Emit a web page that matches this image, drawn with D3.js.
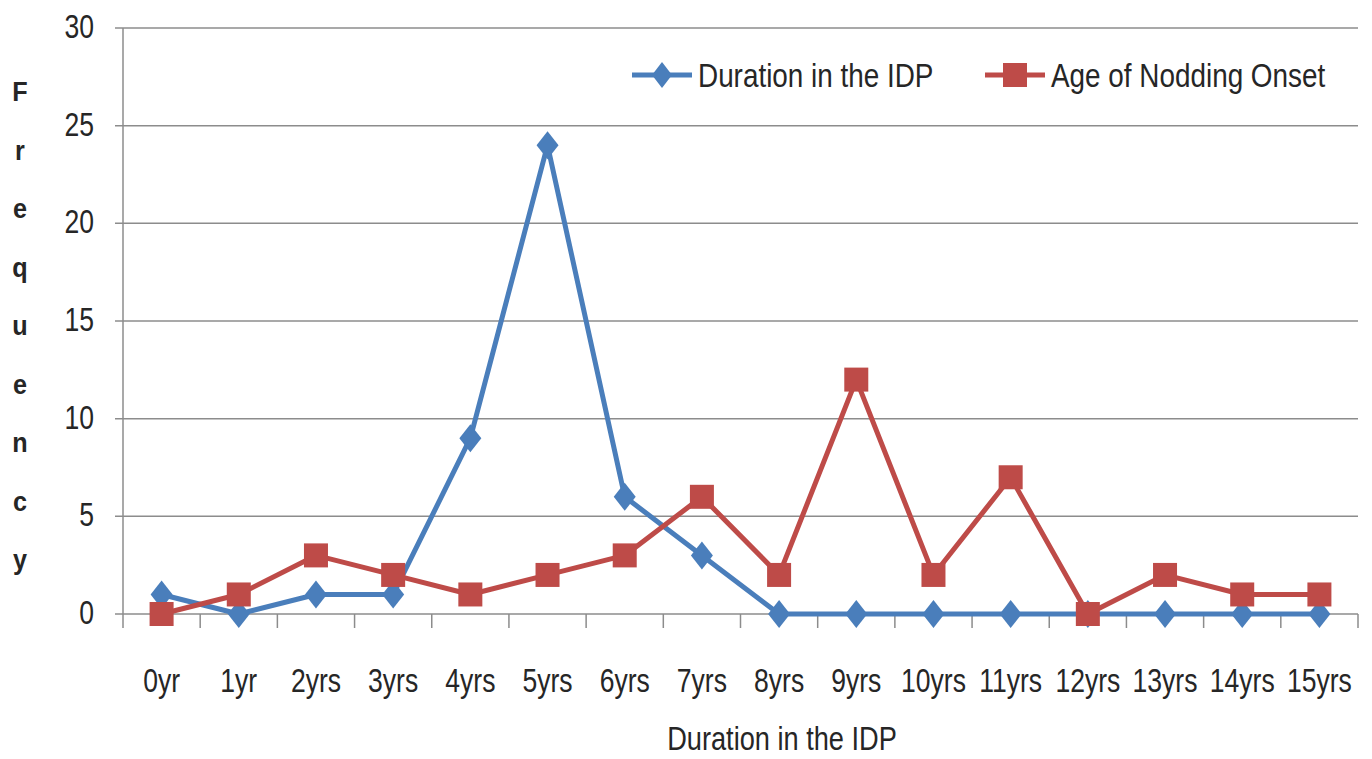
<!DOCTYPE html>
<html lang="en">
<head>
<meta charset="UTF-8">
<title>Duration in the IDP</title>
<script src="https://cdn.jsdelivr.net/npm/d3@7"></script>
<style>
  body { margin: 0; background: #fff; }
  text { font-family: "Liberation Sans", Arial, sans-serif; fill: #262626; }
</style>
</head>
<body>
<script>
var width = 1372, height = 759;

var categories = ["0yr","1yr","2yrs","3yrs","4yrs","5yrs","6yrs","7yrs","8yrs","9yrs","10yrs","11yrs","12yrs","13yrs","14yrs","15yrs"];
var durationIDP = [1,0,1,1,9,24,6,3,0,0,0,0,0,0,0,0];
var nodOnset    = [0,1,3,2,1,2,3,6,2,12,2,7,0,2,1,1];
var yTicks = [0,5,10,15,20,25,30];
var yLabel = "Frequency";

// plot area edges (avoid window.top clash)
var pLeft = 123, pRight = 1358, pTop = 28, pBottom = 614;
var sx = 0.78;   // narrow, tall text like the original

var svg = d3.select("body").append("svg")
    .attr("width", width)
    .attr("height", height);

var x = d3.scaleBand().domain(categories).range([pLeft, pRight]);
var y = d3.scaleLinear().domain([0, 30]).range([pBottom, pTop]);

function place(px, py, k) {
    return "translate(" + px + "," + py + ") scale(" + (k || sx) + ",1)";
}

// gridlines
svg.append("g").selectAll("line").data(yTicks).enter().append("line")
    .attr("x1", pLeft - 8).attr("x2", pRight)
    .attr("y1", d => y(d)).attr("y2", d => y(d))
    .attr("stroke", "#8c8c8c").attr("stroke-width", 1.5);

// y axis line
svg.append("line").attr("x1", pLeft).attr("x2", pLeft)
    .attr("y1", pTop).attr("y2", pBottom)
    .attr("stroke", "#8c8c8c").attr("stroke-width", 1.5);

// y tick labels
svg.append("g").selectAll("text").data(yTicks).enter().append("text")
    .attr("transform", d => place(pLeft - 29, y(d) - 2))
    .attr("dy", "0.35em")
    .attr("text-anchor", "end")
    .attr("font-size", 34)
    .text(d => d);

// x tick marks between categories
var edges = categories.map(c => x(c)).concat([pRight]);
svg.append("g").selectAll("line").data(edges).enter().append("line")
    .attr("x1", d => d).attr("x2", d => d)
    .attr("y1", pBottom).attr("y2", pBottom + 14)
    .attr("stroke", "#8c8c8c").attr("stroke-width", 1.5);

// x labels
svg.append("g").selectAll("text").data(categories).enter().append("text")
    .attr("transform", d => place(x(d) + x.bandwidth() / 2, 692))
    .attr("text-anchor", "middle")
    .attr("font-size", 34)
    .text(d => d);

// axis titles
svg.append("text")
    .attr("transform", place(782, 750, 0.8))
    .attr("text-anchor", "middle").attr("font-size", 34)
    .text("Duration in the IDP");

svg.append("g").selectAll("text").data(yLabel.split("")).enter().append("text")
    .attr("transform", (d, i) => place(20, 101 + i * 58.5, 0.9))
    .attr("text-anchor", "middle")
    .attr("font-size", 28).attr("font-weight", "bold")
    .text(d => d);

var cx = d => x(d) + x.bandwidth() / 2;

var line = d3.line()
    .x((d, i) => cx(categories[i]))
    .y(d => y(d));

// blue series
svg.append("path").datum(durationIDP)
    .attr("d", line).attr("fill", "none")
    .attr("stroke", "#4a7ebb").attr("stroke-width", 5)
    .attr("stroke-linejoin", "round");
svg.append("g").selectAll("path").data(durationIDP).enter().append("path")
    .attr("transform", (d, i) => "translate(" + cx(categories[i]) + "," + y(d) + ")")
    .attr("d", "M0,-14L11,0L0,14L-11,0Z")
    .attr("fill", "#4a7ebb");

// red series
svg.append("path").datum(nodOnset)
    .attr("d", line).attr("fill", "none")
    .attr("stroke", "#be4b48").attr("stroke-width", 5)
    .attr("stroke-linejoin", "round");
svg.append("g").selectAll("rect").data(nodOnset).enter().append("rect")
    .attr("x", (d, i) => cx(categories[i]) - 12)
    .attr("y", d => y(d) - 12)
    .attr("width", 24).attr("height", 24)
    .attr("fill", "#be4b48");

// legend
var legend = [
  {name: "Duration in the IDP", color: "#4a7ebb", x: 632, shape: "diamond"},
  {name: "Age of Nodding Onset", color: "#be4b48", x: 985, shape: "square"}
];
var lg = svg.append("g").selectAll("g").data(legend).enter().append("g")
    .attr("transform", d => "translate(" + d.x + ",75)");
lg.append("line").attr("x1", 0).attr("x2", 60)
    .attr("stroke", d => d.color).attr("stroke-width", 5);
lg.filter(d => d.shape === "diamond").append("path")
    .attr("d", "M30,-13L40,0L30,13L20,0Z")
    .attr("fill", d => d.color);
lg.filter(d => d.shape === "square").append("rect")
    .attr("x", 18).attr("y", -12).attr("width", 24).attr("height", 24)
    .attr("fill", d => d.color);
lg.append("text")
    .attr("transform", place(66, 0, 0.82))
    .attr("dy", "0.35em")
    .attr("font-size", 34)
    .text(d => d.name);
</script>
</body>
</html>
